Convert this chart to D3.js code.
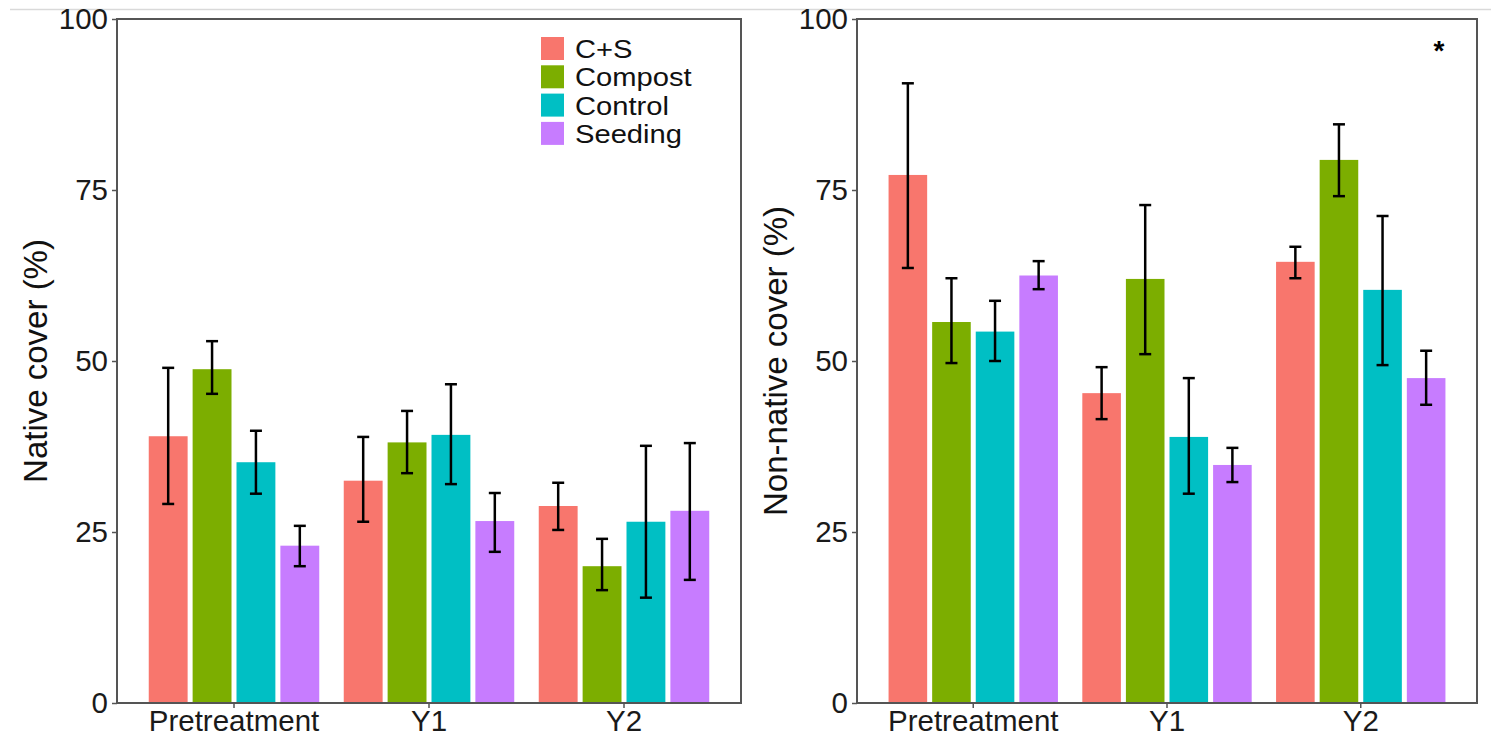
<!DOCTYPE html>
<html><head><meta charset="utf-8">
<script src="https://cdn.jsdelivr.net/npm/d3@7"></script>
<style>body{margin:0;background:#fff;} svg{display:block;font-family:"Liberation Sans",Arial,sans-serif;}</style>
</head><body>
<svg id="c" width="1491" height="739"></svg>
<script>
const periods = ["Pretreatment","Y1","Y2"];
const treatments = ["C+S","Compost","Control","Seeding"];
const colors = ["#F8766D","#7CAE00","#00BFC4","#C77CFF"];
const yTicks = [0,25,50,75,100];

// Native cover (%) — rows: treatments, cols: periods
const nativeMean = [[39.0,32.5,28.8],[48.8,38.1,20.0],[35.2,39.2,26.5],[23.0,26.6,28.1]];
const nativeHi   = [[49.0,38.9,32.2],[52.9,42.7,24.0],[39.8,46.6,37.6],[25.9,30.7,38.0]];
const nativeLo   = [[29.1,26.5,25.3],[45.2,33.6,16.5],[30.6,32.0,15.4],[20.0,22.1,18.0]];

// Non-native cover (%)
const nonMean = [[77.2,45.3,64.5],[55.7,62.0,79.4],[54.3,38.9,60.4],[62.5,34.8,47.5]];
const nonHi   = [[90.6,49.1,66.7],[62.1,72.8,84.6],[58.8,47.5,71.2],[64.6,37.3,51.5]];
const nonLo   = [[63.6,41.5,62.1],[49.7,51.0,74.1],[50.0,30.6,49.4],[60.5,32.3,43.6]];

const FS = 29.5, TS = 33, LS = 26.5;
const svg = d3.select("#c");
svg.append("line").attr("x1",10).attr("x2",1491).attr("y1",9.5).attr("y2",9.5)
  .attr("stroke","#d9d9d9").attr("stroke-width",1.5);

function panel(x0,x1,y0,y1,mean,hi,lo,title,titleX,showLegend,star){
  const g = svg.append("g");
  const x = d3.scaleBand().domain(periods).range([x0,x1]).paddingInner(0.1).paddingOuter(0.15);
  const xs = d3.scaleBand().domain(treatments).range([0,x.bandwidth()]);
  const y = d3.scaleLinear().domain([0,100]).range([y1,y0]);
  const data = [];
  treatments.forEach((t,i)=>periods.forEach((p,j)=>data.push({t,p,i,m:mean[i][j],h:hi[i][j],l:lo[i][j]})));
  const inset = 2.5;
  g.selectAll("rect.bar").data(data).join("rect").attr("class","bar")
    .attr("x",d=>x(d.p)+xs(d.t)+inset).attr("width",xs.bandwidth()-2*inset)
    .attr("y",d=>y(d.m)).attr("height",d=>y(0)-y(d.m)).attr("fill",d=>colors[d.i]);
  const cw = 6;
  const cx = d=>x(d.p)+xs(d.t)+xs.bandwidth()/2;
  const eb = g.selectAll("g.eb").data(data).join("g").attr("stroke","#000").attr("stroke-width",2.5);
  eb.append("line").attr("x1",cx).attr("x2",cx).attr("y1",d=>y(d.h)).attr("y2",d=>y(d.l));
  eb.append("line").attr("x1",d=>cx(d)-cw).attr("x2",d=>cx(d)+cw).attr("y1",d=>y(d.h)).attr("y2",d=>y(d.h));
  eb.append("line").attr("x1",d=>cx(d)-cw).attr("x2",d=>cx(d)+cw).attr("y1",d=>y(d.l)).attr("y2",d=>y(d.l));
  g.append("rect").attr("x",x0).attr("y",y0).attr("width",x1-x0).attr("height",y1-y0)
    .attr("fill","none").attr("stroke","#555").attr("stroke-width",2);
  const ya = g.append("g").attr("transform",`translate(${x0},0)`)
    .call(d3.axisLeft(y).tickValues(yTicks).tickSize(5).tickPadding(4));
  ya.select(".domain").remove();
  ya.selectAll("line").attr("stroke","#555").attr("stroke-width",1.5);
  ya.selectAll("text").attr("font-size",FS).attr("fill","#1a1a1a").attr("font-family","Liberation Sans, Arial, sans-serif");
  const xa = g.append("g").attr("transform",`translate(0,${y1})`)
    .call(d3.axisBottom(x).tickSize(5).tickPadding(2));
  xa.select(".domain").remove();
  xa.selectAll("line").attr("stroke","#555").attr("stroke-width",1.5);
  xa.selectAll("text").attr("font-size",FS).attr("fill","#1a1a1a").attr("font-family","Liberation Sans, Arial, sans-serif");
  g.append("text").attr("transform",`translate(${titleX},${(y0+y1)/2}) rotate(-90)`)
    .attr("text-anchor","middle").attr("font-size",TS).attr("fill","#111").text(title);
  if(showLegend){
    const lg = g.append("g").attr("transform","translate(541,37)");
    treatments.forEach((t,i)=>{
      lg.append("rect").attr("x",0).attr("y",i*28.3).attr("width",23).attr("height",23).attr("fill",colors[i]);
      lg.append("text").attr("transform",`translate(34,${i*28.3+21}) scale(1.1,1)`)
        .attr("font-size",LS).attr("fill","#111").text(t);
    });
  }
  if(star){
    g.append("text").attr("x",x1-38).attr("y",60).attr("text-anchor","middle").attr("font-size",28)
      .attr("font-weight","bold").text("*");
  }
}
panel(117,741,19,703,nativeMean,nativeHi,nativeLo,"Native cover (%)",47,true,false);
panel(857,1477,19,703,nonMean,nonHi,nonLo,"Non-native cover (%)",787,false,true);
</script>
</body></html>
